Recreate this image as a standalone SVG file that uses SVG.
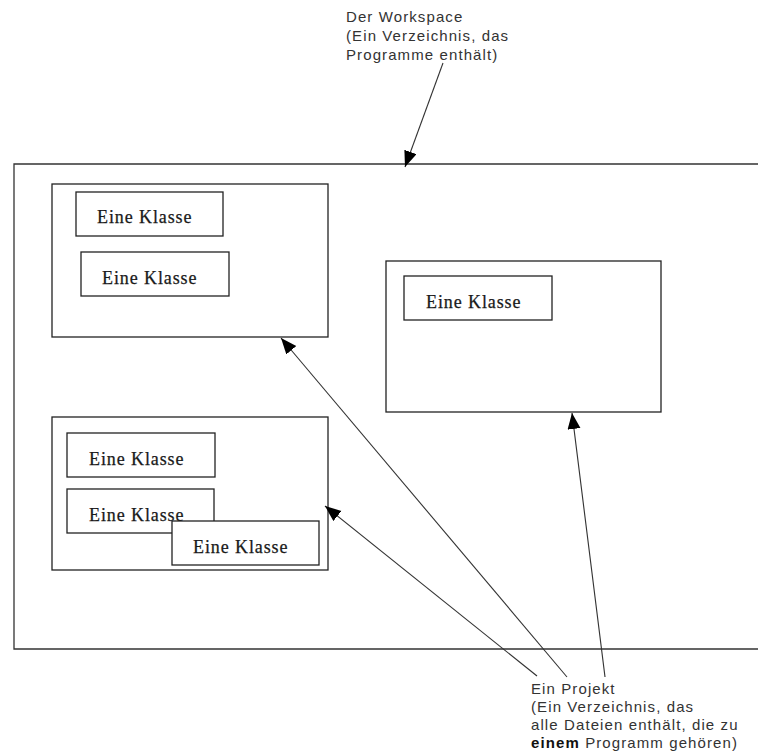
<svg xmlns="http://www.w3.org/2000/svg" width="758" height="756" viewBox="0 0 758 756">
<style>
.box{fill:#fff;stroke:#222;stroke-width:1.3}
.cls{font-family:"Liberation Serif",serif;font-size:18px;letter-spacing:0.9px;fill:#1a1a1a;stroke:#1a1a1a;stroke-width:0.25}
.lbl{font-family:"Liberation Sans","Arial",sans-serif;font-size:15px;letter-spacing:1.1px;fill:#333}
.con{stroke:#333;stroke-width:1.1;fill:none;marker-end:url(#ah)}
</style>
<defs>
<marker id="ah" markerUnits="userSpaceOnUse" markerWidth="18" markerHeight="14" refX="16" refY="6.5" orient="auto">
<path d="M0,0 L16,6.5 L0,13 Z" fill="#000"/>
</marker>
</defs>
<rect width="758" height="756" fill="#fff"/>
<g id="workspace">
<path d="M760,164 H14 V649 H760" fill="none" stroke="#333" stroke-width="1.3"/>
</g>
<g id="project1">
<rect class="box" x="52" y="184" width="276" height="153"/>
</g>
<g id="class1"><rect class="box" x="76" y="192" width="147" height="44"/><text class="cls" x="97" y="223">Eine Klasse</text></g>
<g id="class2"><rect class="box" x="81" y="252" width="148" height="44"/><text class="cls" x="102" y="284">Eine Klasse</text></g>
<g id="project2">
<rect class="box" x="386" y="261" width="275" height="151"/>
</g>
<g id="class3"><rect class="box" x="404" y="276" width="148" height="44"/><text class="cls" x="426" y="308">Eine Klasse</text></g>
<g id="project3">
<rect class="box" x="52" y="417" width="276" height="153"/>
</g>
<g id="class4"><rect class="box" x="67" y="433" width="148" height="44"/><text class="cls" x="89" y="465">Eine Klasse</text></g>
<g id="class5"><rect class="box" x="67" y="489" width="147" height="44"/><text class="cls" x="89" y="521">Eine Klasse</text></g>
<g id="class6"><rect class="box" x="172" y="521" width="147" height="44"/><text class="cls" x="193" y="553">Eine Klasse</text></g>
<g id="label-workspace">
<text class="lbl" x="346" y="22">Der Workspace</text>
<text class="lbl" x="346" y="41">(Ein Verzeichnis, das</text>
<text class="lbl" x="346" y="60">Programme enthält)</text>
</g>
<g id="label-projekt">
<text class="lbl" x="531" y="694">Ein Projekt</text>
<text class="lbl" x="531" y="712">(Ein Verzeichnis, das</text>
<text class="lbl" x="531" y="730">alle Dateien enthält, die zu</text>
<text class="lbl" x="531" y="748"><tspan font-weight="bold" fill="#111">einem</tspan> Programm gehören)</text>
</g>
<g id="connectors">
<line class="con" x1="443" y1="63" x2="405" y2="167"/>
<line class="con" x1="567" y1="677" x2="281" y2="338"/>
<line class="con" x1="537" y1="676" x2="325" y2="506"/>
<line class="con" x1="605" y1="677" x2="572" y2="413"/>
</g>
</svg>
